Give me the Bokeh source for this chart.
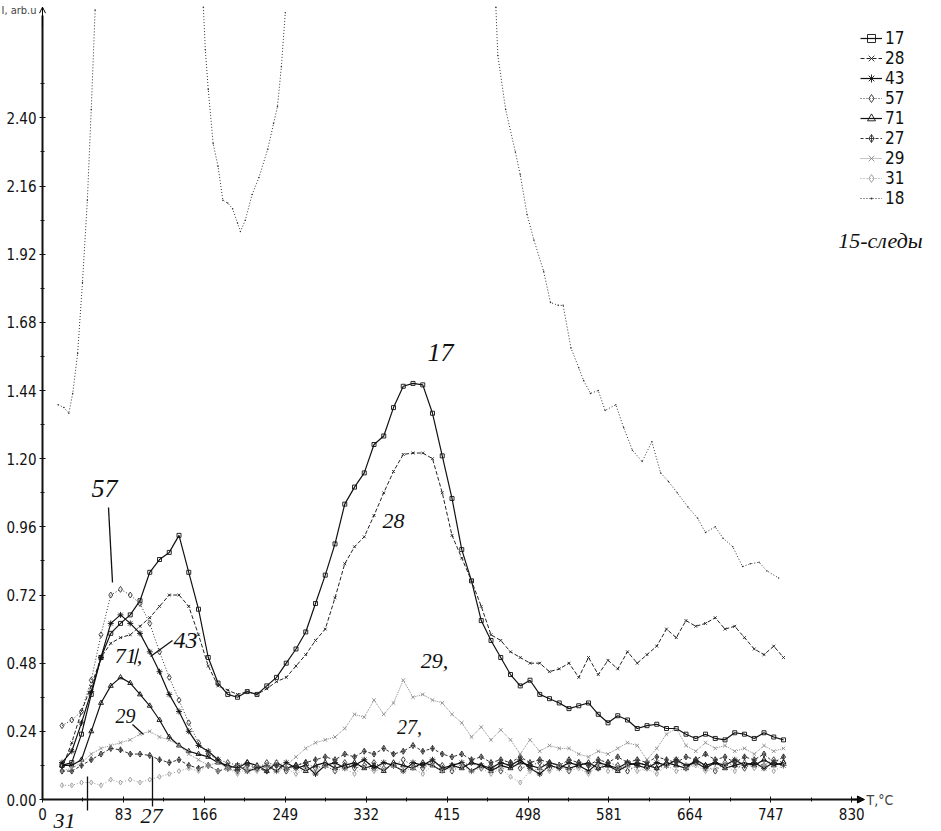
from bokeh.plotting import figure
from bokeh.models import (Range1d, Legend, LegendItem, Label, Arrow, OpenHead,
                          NormalHead, FixedTicker, PrintfTickFormatter)
from bokeh.embed import file_html
from bokeh.resources import INLINE

nan = float("nan")

# ---------------- data ----------------
T = [20, 30, 40, 50, 60, 70, 80, 90, 100, 110,
     120, 130, 140, 150, 160, 170, 180, 190, 200, 210,
     220, 230, 240, 250, 260, 270, 280, 290, 300, 310,
     320, 330, 340, 350, 360, 370, 380, 390, 400, 410,
     420, 430, 440, 450, 460, 470, 480, 490, 500, 510,
     520, 530, 540, 550, 560, 570, 580, 590, 600, 610,
     620, 630, 640, 650, 660, 670, 680, 690, 700, 710,
     720, 730, 740, 750, 760]

s17 = [0.12, 0.13, 0.23, 0.37, 0.50, 0.585, 0.62, 0.65, 0.70, 0.80,
       0.845, 0.87, 0.93, 0.80, 0.67, 0.50, 0.41, 0.37, 0.36, 0.38,
       0.37, 0.40, 0.43, 0.48, 0.53, 0.59, 0.69, 0.79, 0.90, 1.04,
       1.10, 1.15, 1.25, 1.28, 1.38, 1.455, 1.465, 1.46, 1.36, 1.21,
       1.06, 0.88, 0.77, 0.63, 0.56, 0.50, 0.44, 0.40, 0.42, 0.37,
       0.355, 0.34, 0.32, 0.33, 0.34, 0.30, 0.27, 0.295, 0.28, 0.25,
       0.26, 0.265, 0.25, 0.25, 0.23, 0.215, 0.23, 0.215, 0.21, 0.235,
       0.23, 0.215, 0.235, 0.22, 0.21]

s28 = [0.11, 0.20, 0.31, 0.40, 0.50, 0.55, 0.57, 0.58, 0.61, 0.64,
       0.68, 0.72, 0.72, 0.68, 0.58, 0.47, 0.40, 0.385, 0.37, 0.38,
       0.37, 0.39, 0.415, 0.43, 0.47, 0.51, 0.56, 0.60, 0.71, 0.83,
       0.89, 0.925, 1.00, 1.08, 1.155, 1.215, 1.22, 1.22, 1.20, 1.08,
       0.93, 0.85, 0.77, 0.68, 0.58, 0.56, 0.52, 0.50, 0.48, 0.48,
       0.45, 0.46, 0.48, 0.43, 0.50, 0.44, 0.49, 0.46, 0.52, 0.48,
       0.51, 0.54, 0.60, 0.57, 0.63, 0.61, 0.62, 0.64, 0.60, 0.61,
       0.57, 0.53, 0.51, 0.54, 0.50]

s43 = [0.13, 0.17, 0.27, 0.38, 0.50, 0.62, 0.65, 0.62, 0.585, 0.52,
       0.45, 0.37, 0.31, 0.24, 0.19, 0.17, 0.14, 0.11, 0.12, 0.10,
       0.11, 0.12, 0.10, 0.13, 0.11, 0.12, 0.09, 0.12, 0.13, 0.11,
       0.12, 0.14, 0.11, 0.13, 0.12, 0.10, 0.13, 0.12, 0.14, 0.11,
       0.12, 0.13, 0.10, 0.12, 0.11, 0.13, 0.12, 0.14, 0.11, 0.09,
       0.12, 0.11, 0.13, 0.12, 0.10, 0.13, 0.12, 0.11, 0.13, 0.12,
       0.11, 0.13, 0.12, 0.14, 0.12, 0.13, 0.11, 0.13, 0.12, 0.14,
       0.12, 0.13, 0.11, 0.13, 0.12]

s57 = [0.26, 0.28, 0.31, 0.42, 0.58, 0.72, 0.74, 0.72, 0.69, 0.62,
       0.52, 0.43, 0.35, 0.27, 0.20, 0.16, 0.14, 0.13, 0.12, 0.13,
       0.11, 0.13, 0.12, 0.10, 0.12, 0.13, 0.11, 0.12, 0.10, 0.13,
       0.11, 0.12, 0.13, 0.11, 0.12, 0.14, 0.12, 0.11, 0.13, 0.12,
       0.10, 0.12, 0.13, 0.11, 0.12, 0.10, 0.13, 0.11, 0.12, 0.13,
       0.11, 0.12, 0.10, 0.13, 0.12, 0.11, 0.13, 0.12, 0.10, 0.12,
       0.13, 0.11, 0.12, 0.14, 0.11, 0.13, 0.12, 0.10, 0.13, 0.12,
       0.11, 0.13, 0.12, 0.14, 0.13]

s71 = [0.12, 0.12, 0.14, 0.24, 0.34, 0.40, 0.43, 0.41, 0.37, 0.33,
       0.28, 0.22, 0.19, 0.17, 0.16, 0.15, 0.13, 0.12, 0.11, 0.13,
       0.12, 0.10, 0.13, 0.11, 0.12, 0.10, 0.12, 0.13, 0.11, 0.12,
       0.13, 0.11, 0.12, 0.10, 0.13, 0.12, 0.11, 0.13, 0.12, 0.10,
       0.12, 0.11, 0.13, 0.12, 0.10, 0.12, 0.11, 0.13, 0.12, 0.11,
       0.13, 0.12, 0.11, 0.12, 0.13, 0.11, 0.12, 0.10, 0.12, 0.13,
       0.12, 0.11, 0.13, 0.12, 0.11, 0.14, 0.12, 0.13, 0.11, 0.12,
       0.13, 0.12, 0.14, 0.12, 0.13]

s27 = [0.10, 0.10, 0.12, 0.14, 0.16, 0.18, 0.175, 0.16, 0.16, 0.155,
       0.14, 0.13, 0.14, 0.12, 0.11, 0.12, 0.10, 0.11, 0.10, 0.12,
       0.11, 0.10, 0.12, 0.11, 0.12, 0.13, 0.14, 0.15, 0.14, 0.16,
       0.15, 0.17, 0.16, 0.18, 0.16, 0.17, 0.19, 0.17, 0.18, 0.16,
       0.15, 0.16, 0.14, 0.15, 0.13, 0.14, 0.13, 0.15, 0.13, 0.14,
       0.13, 0.12, 0.14, 0.13, 0.12, 0.14, 0.13, 0.15, 0.13, 0.14,
       0.13, 0.15, 0.14, 0.13, 0.15, 0.14, 0.16, 0.14, 0.15, 0.13,
       0.15, 0.14, 0.16, 0.13, 0.15]

s29 = [0.10, 0.11, 0.13, 0.16, 0.18, 0.19, 0.20, 0.21, 0.23, 0.24,
       0.22, 0.21, 0.19, 0.16, 0.14, 0.12, 0.13, 0.11, 0.12, 0.10,
       0.12, 0.11, 0.13, 0.12, 0.15, 0.18, 0.20, 0.21, 0.22, 0.25,
       0.30, 0.29, 0.35, 0.30, 0.34, 0.42, 0.36, 0.37, 0.35, 0.34,
       0.30, 0.27, 0.22, 0.255, 0.21, 0.245, 0.21, 0.16, 0.21, 0.17,
       0.19, 0.18, 0.18, 0.16, 0.15, 0.17, 0.16, 0.18, 0.20, 0.19,
       0.14, 0.18, 0.23, 0.25, 0.19, 0.17, 0.20, 0.18, 0.19, 0.17,
       0.18, 0.16, 0.19, 0.17, 0.18]

s31 = [0.05, 0.05, 0.06, 0.06, 0.05, 0.07, 0.06, 0.07, 0.06, 0.07,
       0.08, 0.09, 0.10, 0.11, 0.10, 0.12, 0.10, 0.11, 0.09, 0.11,
       0.10, 0.12, 0.10, 0.11, 0.09, 0.11, 0.10, 0.12, 0.10, 0.11,
       0.09, 0.12, 0.10, 0.11, 0.12, 0.10, 0.11, 0.09, 0.12, 0.10,
       0.11, 0.12, 0.10, 0.11, 0.09, 0.11, 0.08, 0.06, 0.10, 0.11,
       0.10, 0.12, 0.10, 0.11, 0.09, 0.12, 0.10, 0.11, 0.12, 0.10,
       0.11, 0.09, 0.12, 0.10, 0.11, 0.12, 0.10, 0.11, 0.12, 0.10,
       0.13, 0.11, 0.12, 0.10, 0.12]

# mass 18 runs off the top of the chart twice (gaps = off-scale)
T18 = [16, 22, 27, 31, 36, 41, 46, 50, 54, 110,
       165, 167, 170, 175, 180, 185, 190, 195, 200, 203,
       208, 215, 222, 231, 237, 241, 245, 249, 350,
       465, 467, 475, 485, 490, 497, 504, 514, 521, 529,
       534, 542, 550, 555, 562, 570, 577, 588, 596, 605,
       615, 625, 634, 642, 651, 662, 672, 680, 690, 698,
       708, 718, 726, 735, 743, 755]
s18 = [1.39, 1.38, 1.36, 1.43, 1.57, 1.82, 2.11, 2.43, 2.78, nan,
       2.79, 2.64, 2.50, 2.31, 2.23, 2.11, 2.10, 2.08, 2.03, 2.00,
       2.04, 2.13, 2.19, 2.29, 2.38, 2.44, 2.58, 2.77, nan,
       2.79, 2.62, 2.43, 2.28, 2.20, 2.06, 1.97, 1.86, 1.75, 1.74,
       1.74, 1.59, 1.52, 1.475, 1.43, 1.44, 1.37, 1.39, 1.31, 1.23,
       1.19, 1.26, 1.15, 1.12, 1.08, 1.03, 0.99, 0.94, 0.96, 0.92,
       0.89, 0.82, 0.83, 0.835, 0.805, 0.78]

x_ticks = [0, 83, 166, 249, 332, 415, 498, 581, 664, 747, 830]
y_ticks = [0.00, 0.24, 0.48, 0.72, 0.96, 1.20, 1.44, 1.68, 1.92, 2.16, 2.40]

series = [
    # name, x, y, color, dash, marker, marker size, width
    ("17", T, s17, "#111111", "solid", "square", 4, 1.2),
    ("28", T, s28, "#222222", "4 2", "x", 4, 1.0),
    ("43", T, s43, "#111111", "solid", "asterisk", 6, 1.2),
    ("57", T, s57, "#333333", "1 2", "diamond", 6, 1.0),
    ("71", T, s71, "#111111", "solid", "triangle", 5, 1.2),
    ("27", T, s27, "#333333", "3 2", "diamond_cross", 6, 1.0),
    ("29", T, s29, "#8a8a8a", "1 1", "x", 5, 1.0),
    ("31", T, s31, "#9a9a9a", "1 2", "diamond", 5, 1.0),
    ("18", T18, s18, "#333333", "1 2", "dot", 6, 1.0),
]

# ---------------- figure ----------------
NARROW = "'Liberation Sans Narrow', 'DejaVu Sans Condensed', 'Roboto Condensed', 'Liberation Sans', sans-serif"
HAND = "'Liberation Serif', serif"

W, H = 941, 831
X0, Y0 = 42, 799          # canvas pixel of the origin
PX_T, PX_I = 0.975, 284.0  # pixels per degree / per unit

p = figure(width=W, height=H, output_backend="svg", toolbar_location=None,
           x_range=Range1d(-X0 / PX_T, (W - X0) / PX_T),
           y_range=Range1d((Y0 - H) / PX_I, Y0 / PX_I),
           min_border=0)
p.outline_line_color = None
p.grid.visible = False
p.background_fill_color = "white"

xa = p.xaxis[0]
xa.ticker = FixedTicker(ticks=x_ticks, minor_ticks=[t + 41.5 for t in x_ticks[:-1]])
xa.bounds = (0, 838)
xa.fixed_location = 0
ya = p.yaxis[0]
ya.ticker = FixedTicker(ticks=y_ticks, minor_ticks=[t + 0.12 for t in y_ticks])
ya.formatter = PrintfTickFormatter(format="%.2f")
ya.bounds = (0, 2.76)
ya.fixed_location = 0
for ax in (xa, ya):
    ax.axis_line_width = 2
    ax.axis_line_color = "#111111"
    ax.major_tick_line_color = "#111111"
    ax.minor_tick_line_color = "#111111"
    ax.major_tick_in = 3
    ax.major_tick_out = 3
    ax.minor_tick_in = 2
    ax.minor_tick_out = 2
    ax.major_label_text_font = NARROW
    ax.major_label_text_font_size = "15px"
    ax.major_label_text_color = "#111111"
ya.major_label_standoff = 3
xa.major_label_standoff = 5

legend_items = []
for name, xs, ys, col, dash, mk, ms, lw in series:
    r1 = p.line(xs, ys, line_color=col, line_dash=dash, line_width=lw)
    r2 = p.scatter(xs, ys, marker=mk, size=ms, line_color=col, fill_color=None,
                   line_width=0.9)
    legend_items.append(LegendItem(label=name, renderers=[r1, r2]))

# legend anchored by its bottom-left corner (pixels from the frame's bottom-left)
legend = Legend(items=legend_items, location=(860, H - 208), padding=0, margin=0,
                spacing=0, glyph_width=22, glyph_height=20, label_height=20,
                label_standoff=3, label_text_font=NARROW,
                label_text_font_size="17px", label_text_color="#111111",
                background_fill_alpha=0, border_line_alpha=0)
p.add_layout(legend)

# axis arrows
p.add_layout(Arrow(x_start=0, y_start=2.72, x_end=0, y_end=2.79,
                   end=OpenHead(size=6, line_width=1), line_width=1))
p.add_layout(Arrow(x_start=830, y_start=0, x_end=843, y_end=0,
                   end=NormalHead(size=7, fill_color="#111111"), line_width=1.5))

# axis titles (screen pixels from the canvas' bottom-left)
p.add_layout(Label(x=1, y=H - 3, x_units="screen", y_units="screen",
                   text="I, arb.u", text_font=NARROW, text_font_size="11px",
                   text_baseline="top"))
p.add_layout(Label(x=866, y=H - Y0, x_units="screen", y_units="screen",
                   text="T,°C", text_font=NARROW, text_font_size="14px",
                   text_baseline="middle"))

# hand-written annotations on the scan (canvas pixel positions)
notes = [("17", 440, 352, 26), ("28", 393, 520, 22), ("57", 104, 488, 26),
         ("71,", 128, 655, 22), ("43", 185, 640, 24), ("29", 125, 715, 20),
         ("27", 151, 815, 22), ("31", 64, 820, 22), ("29,", 434, 660, 22),
         ("27,", 409, 726, 20), ("15-следы", 880, 240, 22)]
for txt, px, py, fs in notes:
    p.add_layout(Label(x=px, y=H - py, x_units="screen", y_units="screen",
                       text=txt, text_font=HAND, text_font_style="italic",
                       text_font_size=f"{fs}px", text_align="center",
                       text_baseline="middle", text_color="#111111"))

leaders = [((108, 507), (112, 582)), ((172, 640), (150, 656)),
           ((132, 724), (143, 734)), ((152, 806), (152, 756)),
           ((87, 810), (87, 776)), ((134, 664), (138, 648))]
for (ax0, ay0), (ax1, ay1) in leaders:
    p.add_layout(Arrow(x_start=ax0, y_start=H - ay0, x_end=ax1, y_end=H - ay1,
                       start_units="screen", end_units="screen",
                       end=None, line_width=1.3, line_color="#111111"))

open("out.html", "w").write(file_html(p, INLINE))
